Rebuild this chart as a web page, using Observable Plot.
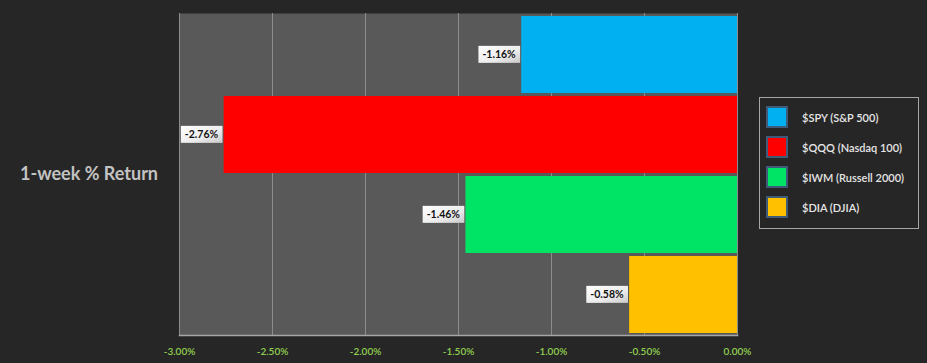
<!DOCTYPE html>
<html>
<head>
<meta charset="utf-8">
<script src="https://cdn.jsdelivr.net/npm/d3@7"></script>
<script src="https://cdn.jsdelivr.net/npm/@observablehq/plot@0.6"></script>
<style>
  html, body { margin: 0; padding: 0; background: #262626; }
  #wrap { position: relative; width: 927px; height: 363px; font-family: Lato, "Open Sans", sans-serif; }
  #ylabel { position: absolute; left: 20px; top: 162px; font-size: 18px; font-weight: bold; color: #c3c3c3; white-space: nowrap; }
  #legend { position: absolute; left: 759px; top: 97px; width: 158px; height: 130px; border: 1px solid #a6a6a6; box-sizing: content-box; }
  .item { position: absolute; left: 6px; height: 22px; display: flex; align-items: center; }
  .sw { width: 18px; height: 18px; border: 2px solid #3e5c7a; margin-right: 14px; }
  .lt { font-size: 11px; color: #e6e6e6; white-space: nowrap; font-weight: 600; }
</style>
</head>
<body>
<div id="wrap">
  <div id="chart"></div>
  <div id="ylabel">1-week % Return</div>
  <div id="legend"></div>
</div>
<script>
const names = ["$SPY (S&P 500)", "$QQQ (Nasdaq 100)", "$IWM (Russell 2000)", "$DIA (DJIA)"];
const values = [-1.16, -2.76, -1.46, -0.58];
const colors = ["#00b0f0", "#ff0000", "#00e466", "#ffc000"];
const xTicks = [-3, -2.5, -2, -1.5, -1, -0.5, 0];
const yTitle = "1-week % Return";

const data = names.map((n, i) => ({name: n, value: values[i]}));

const chart = Plot.plot({
  width: 927,
  height: 363,
  marginLeft: 179,
  marginRight: 190,
  marginTop: 13,
  marginBottom: 28,
  style: {background: "#262626", fontFamily: "Lato, 'Open Sans', sans-serif"},
  x: {domain: [-3, 0], label: null},
  y: {domain: names, axis: null, paddingInner: 0.04, paddingOuter: 0.02},
  color: {domain: names, range: colors},
  marks: [
    Plot.frame({fill: "#595959", stroke: null}),
    Plot.gridX(xTicks, {stroke: "#8c8c8c", strokeOpacity: 1, strokeWidth: 1}),
    Plot.barX(data, {x: "value", y: "name", fill: "name"}),
    Plot.frame({anchor: "bottom", stroke: "#a6a6a6", strokeWidth: 1.5}),
    Plot.axisX(xTicks, {tickSize: 0, tickPadding: 12, fill: "#92d050", fontSize: 10, fontWeight: 600, label: null, tickFormat: d => d.toFixed(2) + "%"}),
    Plot.text(data, {x: "value", y: "name", text: d => d.value.toFixed(2) + "%", textAnchor: "end", dx: -6, fontWeight: "bold", fontSize: 10.5, fill: "#111", className: "vlabel"})
  ]
});
document.getElementById("chart").appendChild(chart);

// value label backgrounds
const svg = d3.select(chart);
const defs = svg.append("defs");
const grad = defs.append("linearGradient").attr("id", "lblg").attr("x1", 0).attr("y1", 0).attr("x2", 1).attr("y2", 1);
grad.append("stop").attr("offset", "0%").attr("stop-color", "#ffffff");
grad.append("stop").attr("offset", "60%").attr("stop-color", "#ececec");
grad.append("stop").attr("offset", "100%").attr("stop-color", "#c9c9c9");
svg.selectAll("g.vlabel text").each(function() {
  const b = this.getBBox();
  const t = this.getAttribute("transform");
  const r = document.createElementNS("http://www.w3.org/2000/svg", "rect");
  r.setAttribute("x", b.x - 4);
  r.setAttribute("y", b.y - 2.5);
  r.setAttribute("width", b.width + 8);
  r.setAttribute("height", b.height + 5);
  r.setAttribute("fill", "url(#lblg)");
  if (t) r.setAttribute("transform", t);
  this.parentNode.insertBefore(r, this);
});

// legend
const leg = document.getElementById("legend");
names.forEach((n, i) => {
  const it = document.createElement("div");
  it.className = "item";
  it.style.top = (8 + i * 30) + "px";
  it.innerHTML = `<div class="sw" style="background:${colors[i]}"></div><div class="lt"></div>`;
  it.querySelector(".lt").textContent = n;
  leg.appendChild(it);
});
document.getElementById("ylabel").textContent = yTitle;
</script>
</body>
</html>
